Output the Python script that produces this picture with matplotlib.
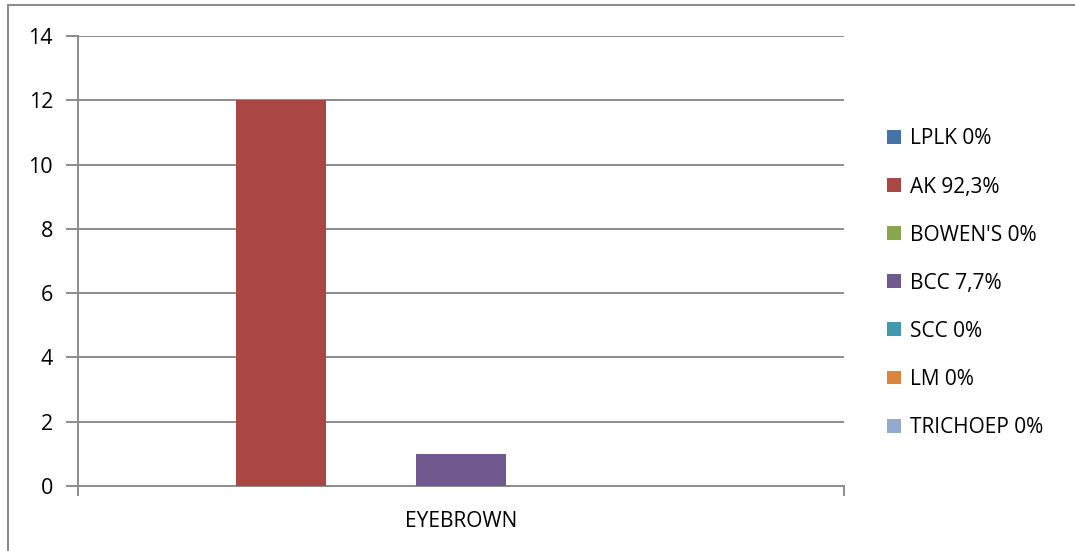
import matplotlib.pyplot as plt
from matplotlib.patches import Patch, Rectangle

plt.rcParams["font.family"] = ["Open Sans", "DejaVu Sans"]

category = "EYEBROWN"
series_names = ["LPLK 0%", "AK 92,3%", "BOWEN'S 0%", "BCC 7,7%", "SCC 0%", "LM 0%", "TRICHOEP 0%"]
series_values = [0, 12, 0, 1, 0, 0, 0]
colors = ["#4572A7", "#AA4643", "#89A54E", "#71588F", "#4198AF", "#DB843D", "#93A9CF"]
y_ticks = [0, 2, 4, 6, 8, 10, 12, 14]

GRID = "#8c8c8c"

fig = plt.figure(figsize=(10.75, 5.51), dpi=100)
W, H = 1075, 551
ax = fig.add_axes([78 / W, 1 - 486 / H, (844 - 78) / W, (486 - 36) / H])

# outer chart border (only left and top fall inside the picture)
fig.patches.append(Rectangle((8 / W, -0.1), 1.2, 1 - 5 / H + 0.1, transform=fig.transFigure,
                             fill=False, edgecolor="#8c8c8c", linewidth=1.5))

n = len(series_values)
bar_w = 90 / 766
start = 0.5 - n * bar_w / 2
for i, (name, val, col) in enumerate(zip(series_names, series_values, colors)):
    ax.bar(start + (i + 0.5) * bar_w, val, width=bar_w, color=col, zorder=3)

ax.set_xlim(0, 1)
ax.set_ylim(0, 14)
ax.set_yticks(y_ticks)
ax.yaxis.grid(True, color=GRID, linewidth=1.4, zorder=0)
ax.set_xticks([0, 1])
ax.set_xticklabels(["", ""])
ax.tick_params(axis="x", length=7, width=1.4, color=GRID)
ax.tick_params(axis="y", length=9, width=1.4, color=GRID, labelsize=15.5, pad=9)
ax.text(0.5, -0.055, category, transform=ax.transAxes, ha="center", va="top", fontsize=15)

for side in ["top", "right"]:
    ax.spines[side].set_visible(False)
for side in ["left", "bottom"]:
    ax.spines[side].set_color(GRID)
    ax.spines[side].set_linewidth(1.4)

handles = [Patch(facecolor=c, edgecolor="none") for c in colors]
fig.legend(handles, series_names, loc="upper left", bbox_to_anchor=(877 / W, 1 - 118 / H),
           frameon=False, fontsize=15, handlelength=0.65, handleheight=0.65,
           handletextpad=0.45, labelspacing=1.3, borderpad=0)

fig.savefig("out.png", dpi=100)
